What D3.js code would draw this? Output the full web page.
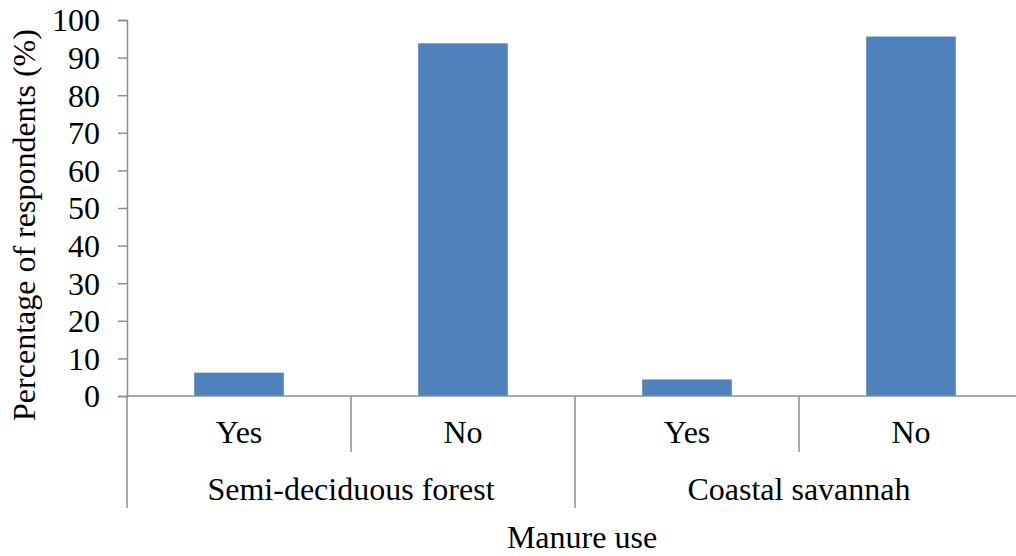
<!DOCTYPE html>
<html>
<head>
<meta charset="utf-8">
<script src="https://cdn.jsdelivr.net/npm/d3@7"></script>
<style>
  html, body { margin: 0; padding: 0; background: #fff; }
  svg { display: block; font-family: "Liberation Serif", "Times New Roman", serif; }
</style>
</head>
<body>
<svg id="chart" width="1016" height="556"></svg>
<script>
// Manure use by agro-ecological zone
const zones = ["Semi-deciduous forest", "Coastal savannah"];
const answers = ["Yes", "No"];
const semiDeciduousValues = [6.2, 93.8];
const coastalSavannahValues = [4.4, 95.6];
const yTicks = [0, 10, 20, 30, 40, 50, 60, 70, 80, 90, 100];

const rows = [];
[semiDeciduousValues, coastalSavannahValues].forEach((vals, zi) => {
  answers.forEach((a, ai) => rows.push({ zone: zones[zi], answer: a, value: vals[ai], key: zones[zi] + "|" + a }));
});

const svg = d3.select("#chart");
const plotLeft = 127, plotRight = 1023, plotTop = 20, plotBottom = 396;
const fontSize = 32;
const axisColor = "#8c8c8c";

const x = d3.scaleBand().domain(rows.map(d => d.key)).range([plotLeft, plotRight]).padding(0);
const xZone = d3.scaleBand().domain(zones).range([plotLeft, plotRight]).padding(0);
const y = d3.scaleLinear().domain([0, 100]).range([plotBottom, plotTop]);

// bars
const barFrac = 0.4;
svg.append("g").selectAll("rect").data(rows).join("rect")
  .attr("x", d => x(d.key) + x.bandwidth() * (1 - barFrac) / 2)
  .attr("width", x.bandwidth() * barFrac)
  .attr("y", d => y(d.value))
  .attr("height", d => y(0) - y(d.value))
  .attr("fill", "#4f81bd");

// y axis
const yAxis = svg.append("g").attr("transform", `translate(${plotLeft},0)`)
  .call(d3.axisLeft(y).tickValues(yTicks).tickSize(9).tickPadding(18).tickFormat(d3.format("d")));
yAxis.select(".domain").attr("stroke", axisColor).attr("stroke-width", 1.5);
yAxis.selectAll(".tick line").attr("stroke", axisColor).attr("stroke-width", 1.5);
yAxis.selectAll(".tick text").attr("fill", "#000").attr("font-size", fontSize)
  .attr("font-family", "Liberation Serif").attr("dy", "0.34em");

// x axis baseline
svg.append("line").attr("x1", plotLeft).attr("x2", plotRight).attr("y1", y(0)).attr("y2", y(0))
  .attr("stroke", axisColor).attr("stroke-width", 1.5);

// inner separators between answers
const g = svg.append("g");
zones.forEach(z => {
  const mid = xZone(z) + xZone.bandwidth() / 2;
  g.append("line").attr("x1", mid).attr("x2", mid).attr("y1", y(0)).attr("y2", 452)
    .attr("stroke", axisColor).attr("stroke-width", 1.5);
});
// zone separators
[plotLeft, ...zones.map(z => xZone(z) + xZone.bandwidth())].forEach(px => {
  g.append("line").attr("x1", px).attr("x2", px).attr("y1", y(0)).attr("y2", 508)
    .attr("stroke", axisColor).attr("stroke-width", 1.5);
});

// answer labels
svg.append("g").selectAll("text").data(rows).join("text")
  .attr("x", d => x(d.key) + x.bandwidth() / 2)
  .attr("y", 443)
  .attr("text-anchor", "middle")
  .attr("font-size", fontSize)
  .text(d => d.answer);

// zone labels
svg.append("g").selectAll("text").data(zones).join("text")
  .attr("x", d => xZone(d) + xZone.bandwidth() / 2)
  .attr("y", 500)
  .attr("text-anchor", "middle")
  .attr("font-size", fontSize)
  .text(d => d);

// axis titles
svg.append("text").attr("x", 582).attr("y", 548)
  .attr("text-anchor", "middle").attr("font-size", fontSize).text("Manure use");
svg.append("text")
  .attr("transform", `translate(35,${(plotTop + plotBottom) / 2 + 17}) rotate(-90)`)
  .attr("text-anchor", "middle").attr("font-size", fontSize)
  .text("Percentage of respondents (%)");
</script>
</body>
</html>
